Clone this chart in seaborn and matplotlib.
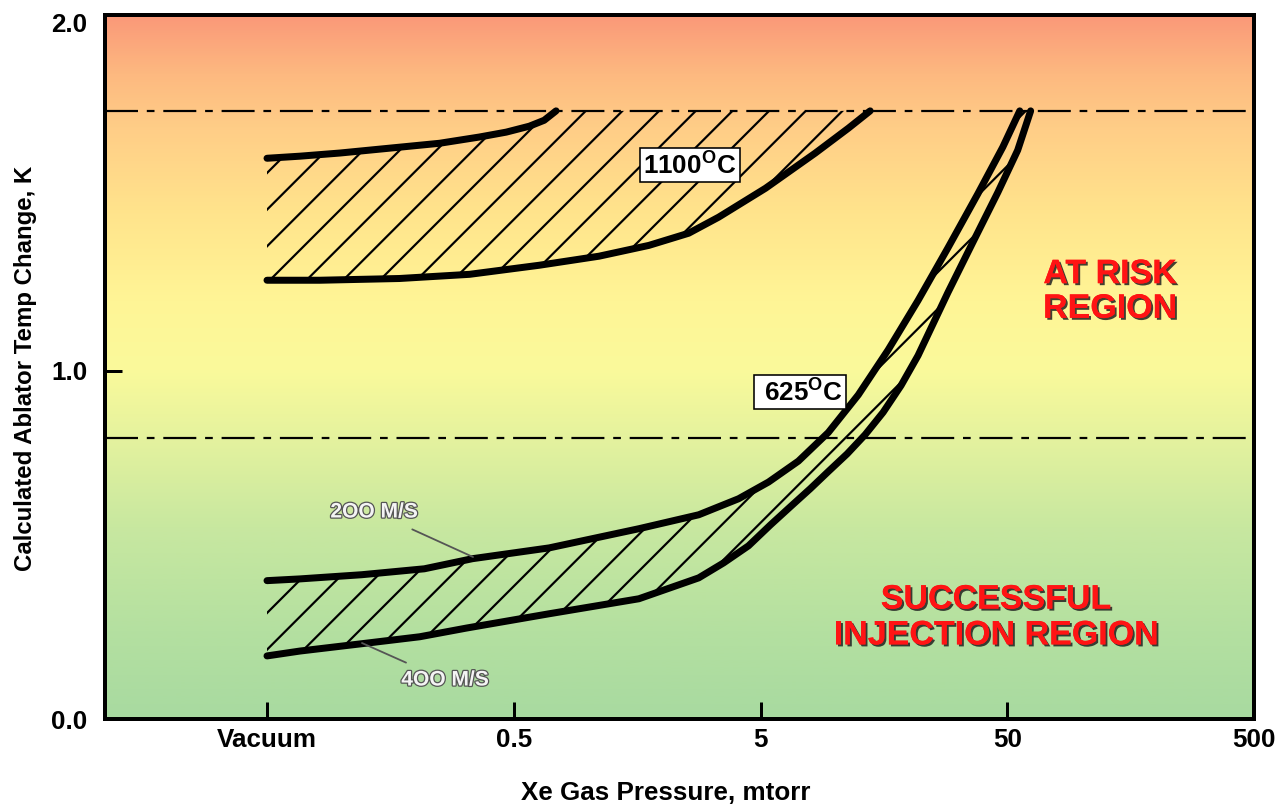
import numpy as np
import matplotlib
matplotlib.use("Agg")
import matplotlib.pyplot as plt
import matplotlib.patheffects as pe
import seaborn as sns

# ---------------- data ----------------
x_ticks = [0.05, 0.5, 5, 50, 500]
x_tick_labels = ["Vacuum", "0.5", "5", "50", "500"]
y_ticks = [0.0, 1.0, 2.0]
y_tick_labels = ["0.0", "1.0", "2.0"]
limit_upper = 1.745
limit_lower = 0.805

# 1100 C band
hot_upper_x = [0.05, 0.068, 0.0986, 0.157, 0.250, 0.363, 0.466, 0.578, 0.664, 0.742]
hot_upper_y = [1.609, 1.615, 1.624, 1.638, 1.652, 1.670, 1.684, 1.701, 1.718, 1.745]
hot_lower_x = [0.05, 0.0819, 0.172, 0.331, 0.634, 1.108, 1.764, 2.559, 3.383, 5.24, 8.34, 11.34, 13.91]
hot_lower_y = [1.259, 1.259, 1.264, 1.276, 1.302, 1.328, 1.359, 1.394, 1.440, 1.523, 1.624, 1.695, 1.745]

# 625 C band (200 M/S upper, 400 M/S lower)
v200_x = [0.05, 0.068, 0.121, 0.217, 0.340, 0.696, 1.607, 2.809, 4.075, 5.39, 7.12, 9.41,
          12.45, 16.45, 21.75, 28.75, 38.0, 47.95, 56.18]
v200_y = [0.397, 0.402, 0.414, 0.431, 0.460, 0.491, 0.546, 0.586, 0.632, 0.680, 0.740, 0.822,
          0.930, 1.059, 1.201, 1.352, 1.507, 1.641, 1.745]
v400_x = [0.05, 0.068, 0.121, 0.208, 0.322, 0.696, 1.607, 2.809, 3.544, 4.471, 5.487, 6.675,
          7.96, 9.41, 11.23, 13.28, 15.70, 18.56, 21.75, 28.75, 36.28, 45.78, 55.1, 62.2]
v400_y = [0.181, 0.195, 0.216, 0.236, 0.261, 0.302, 0.345, 0.405, 0.448, 0.497, 0.557, 0.612,
          0.661, 0.710, 0.761, 0.816, 0.880, 0.957, 1.043, 1.224, 1.368, 1.511, 1.632, 1.745]

# ---------------- styling ----------------
DPI = 220
def pt(px):
    return px * 72.0 / DPI

sns.set_theme(style="white")
plt.rcParams["font.family"] = ["Liberation Sans", "DejaVu Sans"]
plt.rcParams["font.weight"] = "bold"
plt.rcParams["mathtext.fontset"] = "custom"
plt.rcParams["mathtext.rm"] = "Liberation Sans:bold"
plt.rcParams["mathtext.bf"] = "Liberation Sans:bold"
plt.rcParams["hatch.linewidth"] = pt(2.2)
plt.rcParams["hatch.color"] = "black"

fig = plt.figure(figsize=((1278 + 0.01) / DPI, (805 + 0.01) / DPI), dpi=DPI)
fig.patch.set_facecolor("white")
ax = fig.add_axes([104.5 / 1278, (805 - 719) / 805, 1149.5 / 1278, 704.3 / 805])
ax.set_xscale("log")
XMIN, XMAX = 0.010975, 500
YMIN, YMAX = 0.0, 2.021

# background gradient
stop_y = [0.0, 0.25, 0.55, 0.8, 1.0, 1.2, 1.45, 1.70, 1.85, 2.03]
stop_rgb = np.array([(168, 218, 160), (180, 224, 160), (200, 232, 160), (228, 242, 158),
                     (250, 250, 155), (255, 245, 150), (255, 228, 140), (255, 205, 135),
                     (253, 185, 128), (250, 150, 120)]) / 255.0
yy = np.linspace(YMAX, YMIN, 400)
grad = np.stack([np.interp(yy, stop_y, stop_rgb[:, k]) for k in range(3)], axis=-1)[:, None, :]
ax.imshow(grad, extent=[0, 1, 0, 1], transform=ax.transAxes, aspect="auto",
          zorder=0, interpolation="bilinear")

# limit lines
dash = (15, 4, 3.5, 4)
for yv in (limit_upper, limit_lower):
    ax.axhline(yv, color="black", lw=pt(2.2), dashes=dash, zorder=2)

# hatched regions
ax.fill(np.concatenate([hot_upper_x, hot_lower_x[::-1]]),
        np.concatenate([hot_upper_y, hot_lower_y[::-1]]),
        fill=False, hatch="//", edgecolor="black", lw=0, zorder=3)
ax.fill(np.concatenate([v200_x, v400_x[::-1]]),
        np.concatenate([v200_y, v400_y[::-1]]),
        fill=False, hatch="//", edgecolor="black", lw=0, zorder=3)

# curves
for xs, ys in ((hot_upper_x, hot_upper_y), (hot_lower_x, hot_lower_y),
               (v200_x, v200_y), (v400_x, v400_y)):
    sns.lineplot(x=xs, y=ys, ax=ax, color="black", lw=pt(7), estimator=None,
                 sort=False, solid_capstyle="round", solid_joinstyle="round", zorder=4)

ax.set_xlim(XMIN, XMAX)
ax.set_ylim(YMIN, YMAX)

# axes cosmetics
for s in ax.spines.values():
    s.set_linewidth(pt(4))
    s.set_color("black")
    s.set_zorder(6)
ax.set_xticks(x_ticks)
ax.set_xticklabels(x_tick_labels)
ax.xaxis.set_minor_locator(matplotlib.ticker.NullLocator())
ax.set_yticks(y_ticks)
ax.set_yticklabels(y_tick_labels)
ax.tick_params(axis="both", which="major", direction="in", length=pt(17), width=pt(3),
               color="black", labelsize=pt(26), labelcolor="black")
ax.tick_params(axis="x", pad=pt(9), bottom=True)
ax.tick_params(axis="y", pad=pt(17), left=True)
for lab in ax.get_xticklabels() + ax.get_yticklabels():
    lab.set_fontweight("bold")
ax.yaxis.get_major_ticks()[2].tick1line.set_visible(False)
ax.grid(False)

ax.set_ylabel("Calculated Ablator Temp Change, K", fontsize=pt(24), fontweight="bold",
              color="black", va="center")
ax.yaxis.set_label_coords(-0.0683, 0.4984)
ax.set_xlabel("Xe Gas Pressure, mtorr", fontsize=pt(26), fontweight="bold",
              color="black", va="center")
ax.xaxis.set_label_coords(0.4885, -0.1051)

# temperature boxes
box = dict(boxstyle="square,pad=0.12", fc="white", ec="black", lw=pt(1.6))
ax.text(0.5093, 0.7866, r"1100$^{\mathrm{O}}$C", transform=ax.transAxes, ha="center",
        va="center", fontsize=pt(26), fontweight="bold", color="black", bbox=box, zorder=7)
ax.text(0.6050, 0.4643, r" 625$^{\mathrm{O}}$C ", transform=ax.transAxes, ha="center",
        va="center", fontsize=pt(26), fontweight="bold", color="black", bbox=box, zorder=7)

# region labels
red_fx = [pe.withSimplePatchShadow(offset=(pt(2), -pt(2)), shadow_rgbFace="#202020", alpha=0.85),
          pe.Normal()]
ax.text(0.8747, 0.6063, "AT RISK\nREGION", transform=ax.transAxes, ha="center", va="center",
        fontsize=pt(34), fontweight="bold", color="#ff1414", linespacing=1.15,
        path_effects=red_fx, zorder=7)
ax.text(0.7755, 0.1434, "SUCCESSFUL\nINJECTION REGION", transform=ax.transAxes, ha="center",
        va="center", fontsize=pt(34), fontweight="bold", color="#ff1414", linespacing=1.2,
        path_effects=red_fx, zorder=7)

# speed labels
spd_fx = [pe.withStroke(linewidth=pt(2.5), foreground="#555555")]
arrow = dict(arrowstyle="-", color="#555555", lw=pt(1.8), shrinkA=1, shrinkB=0)
ax.annotate("2OO M/S", xy=(0.3206, 0.2300), xycoords="axes fraction",
            xytext=(0.2345, 0.2939), textcoords="axes fraction", ha="center", va="center",
            fontsize=pt(21), fontweight="bold", color="#f4f4f4", path_effects=spd_fx,
            arrowprops=arrow, zorder=7)
ax.annotate("4OO M/S", xy=(0.2240, 0.1079), xycoords="axes fraction",
            xytext=(0.2962, 0.0554), textcoords="axes fraction", ha="center", va="center",
            fontsize=pt(21), fontweight="bold", color="#f4f4f4", path_effects=spd_fx,
            arrowprops=arrow, zorder=7)

fig.savefig("out.png", dpi=DPI, facecolor="white")
